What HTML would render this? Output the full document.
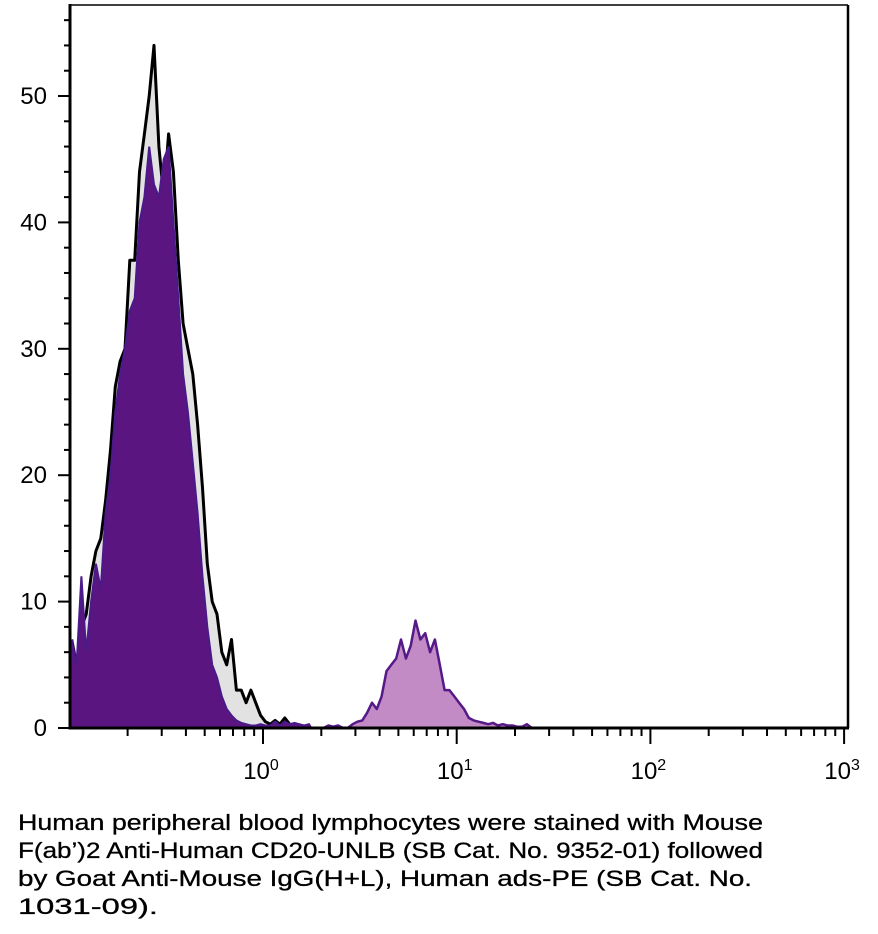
<!DOCTYPE html>
<html><head><meta charset="utf-8"><style>
html,body{margin:0;padding:0;background:#fff;}
svg{display:block;font-family:"Liberation Sans",sans-serif;}
</style></head><body>
<svg id="chart" width="878" height="934" viewBox="0 0 878 934" xmlns="http://www.w3.org/2000/svg">
<g id="plot"></g>
<g id="axes"></g>
<g font-size="22" fill="#000" stroke="#000" stroke-width="0.3">
<text x="18" y="830" textLength="745" lengthAdjust="spacingAndGlyphs">Human peripheral blood lymphocytes were stained with Mouse</text>
<text x="18" y="858" textLength="745" lengthAdjust="spacingAndGlyphs">F(ab’)2 Anti-Human CD20-UNLB (SB Cat. No. 9352-01) followed</text>
<text x="18" y="886" textLength="734" lengthAdjust="spacingAndGlyphs">by Goat Anti-Mouse IgG(H+L), Human ads-PE (SB Cat. No.</text>
<text x="18" y="914" textLength="140" lengthAdjust="spacingAndGlyphs">1031-09).</text>
</g>
</svg>
<script>
// data (log10 bin start and step, counts)
const mainStart = -1.0;
const stainedStart = 0.3;
const binStep = 0.025;
const blackCounts = [7,5,8,9,12,14,15,18,22,27,29,30,37,37,44,47,50,54,46,42,47,44,37,32,30,28,24,19,13,10,9,6,5,7,3,3,2,3,2,1,0.5,0.3,0.6,0.3,0.8,0.3,0,0,0,0];
const purpleCounts = [7,5,12,6,10,13,11,17,20,25,28,30,33,34,40,42,46,43,42,45,46,40,34,28,25,21,17,12,8,5,4,2.5,1.5,1,0.6,0.4,0.3,0.2,0.2,0.3,0.2,0.2,0.5,0.2,0.5,0.3,0.4,0.3,0.2,0.3];
const stainedCounts = [0,0.2,0.1,0.2,0,0,0.3,0.5,0.6,1.2,2,1.5,2.5,4.5,5,5.5,7,5.5,6.5,8.5,7,7.5,6,7,5,3,3,2.5,2,1.5,0.8,0.6,0.5,0.4,0.3,0.4,0.2,0.3,0.2,0.2,0.1,0.1,0.3,0];
const yTicks = [0,10,20,30,40,50];
const xDecades = [0,1,2,3];

const X0=70, X1=848, Y0=728, YT=5;
const xs = lg => 263 + 193.7*lg;
const ys = v => Y0 - 12.64*v;
const NS="http://www.w3.org/2000/svg";
const plot=document.getElementById('plot'), axes=document.getElementById('axes');
function mk(tag, parent, attrs){const e=document.createElementNS(NS,tag);for(const k in attrs)e.setAttribute(k,attrs[k]);parent.appendChild(e);return e;}

function areaPath(start, counts){
  let d='M'+xs(start).toFixed(1)+','+Y0;
  counts.forEach((c,i)=>{d+=' L'+xs(start+(i+0.5)*binStep).toFixed(1)+','+ys(c).toFixed(1);});
  d+=' L'+xs(start+counts.length*binStep).toFixed(1)+','+Y0+' Z';
  return d;
}
function linePath(start, counts){
  return counts.map((c,i)=>(i?'L':'M')+xs(start+(i+0.5)*binStep).toFixed(1)+','+ys(c).toFixed(1)).join(' ');
}
const clip=mk('clipPath',plot,{id:'pc'}); mk('rect',clip,{x:X0,y:YT,width:X1-X0,height:Y0-YT});
const g=mk('g',plot,{'clip-path':'url(#pc)'});
let e;
e=mk('path',g,{d:areaPath(mainStart,blackCounts),fill:'#e2e2e2'});


e=mk('path',g,{d:linePath(mainStart,blackCounts),fill:'none',stroke:'#000','stroke-width':3,'stroke-linejoin':'round'});


e=mk('path',g,{d:areaPath(mainStart,purpleCounts),fill:'#5a1580',stroke:'#4a1a8a','stroke-width':2});


e=mk('path',g,{d:areaPath(stainedStart,stainedCounts),fill:'#c38bc6'});


e=mk('path',g,{d:linePath(stainedStart,stainedCounts),fill:'none',stroke:'#561a88','stroke-width':2.5,'stroke-linejoin':'round'});



// frame
e=mk('line',axes,{x1:X0,y1:YT,x2:X1,y2:YT,stroke:'#000','stroke-width':1.5});


e=mk('line',axes,{x1:X1,y1:YT,x2:X1,y2:Y0,stroke:'#000','stroke-width':2.5});


e=mk('line',axes,{x1:X0,y1:YT-1,x2:X0,y2:Y0+1.5,stroke:'#000','stroke-width':3});


e=mk('line',axes,{x1:X0-1.5,y1:Y0,x2:X1+1,y2:Y0,stroke:'#000','stroke-width':3});



// y ticks
for(let v=0; v<=56; v+=2){
  const major = v%10===0;
  e=mk('line',axes,{x1:X0-(major?12:6),y1:ys(v),x2:X0,y2:ys(v),stroke:'#000','stroke-width':2});
  
  
}
yTicks.forEach(v=>{
  e=mk('text',axes,{x:47,y:ys(v)+8,'text-anchor':'end','font-size':24});
  e.textContent=String(v);
  
  
});
// x ticks
for(let d=-1; d<3; d++){
  for(let m=1;m<=9;m++){
    const lg=d+Math.log10(m);
    const px=xs(lg);
    if(px<X0+2) continue;
    const major=m===1;
    e=mk('line',axes,{x1:px,y1:Y0,x2:px,y2:Y0+(major?16:8),stroke:'#000','stroke-width':2});
    
    
  }
}
e=mk('line',axes,{x1:xs(3),y1:Y0,x2:xs(3),y2:Y0+16,stroke:'#000','stroke-width':2});


xDecades.forEach(d=>{
  const t=mk('text',axes,{x:xs(d)-2,y:779,'text-anchor':'middle','font-size':24});
  
  
  const a=document.createElementNS(NS,'tspan');a.textContent='10';t.appendChild(a);
  const b=document.createElementNS(NS,'tspan');b.setAttribute('dy','-9');b.setAttribute('font-size','16');b.textContent=String(d);t.appendChild(b);
});
</script>
</body></html>
